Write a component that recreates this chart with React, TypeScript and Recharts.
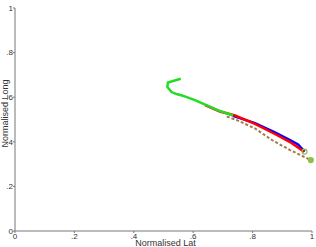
import React from "react";
import { ComposedChart, Line, Scatter, XAxis, YAxis } from "recharts";

const TICKS = [0, 0.2, 0.4, 0.6, 0.8, 1];

const greenPath = [
  { x: 0.558, y: 0.683 },
  { x: 0.515, y: 0.666 },
  { x: 0.513, y: 0.646 },
  { x: 0.527, y: 0.623 },
  { x: 0.544, y: 0.614 },
  { x: 0.562, y: 0.608 },
  { x: 0.606, y: 0.587 },
  { x: 0.64, y: 0.567 },
  { x: 0.69, y: 0.538 },
  { x: 0.734, y: 0.518 },
];

const redPath = [
  { x: 0.64, y: 0.565 },
  { x: 0.69, y: 0.536 },
  { x: 0.741, y: 0.518 },
  { x: 0.808, y: 0.48 },
  { x: 0.875, y: 0.435 },
  { x: 0.926, y: 0.399 },
  { x: 0.973, y: 0.356 },
];

const bluePath = [
  { x: 0.734, y: 0.516 },
  { x: 0.808, y: 0.484 },
  { x: 0.875, y: 0.442 },
  { x: 0.926, y: 0.408 },
  { x: 0.953, y: 0.388 },
  { x: 0.975, y: 0.356 },
];

const dashedPath = [
  { x: 0.713, y: 0.513 },
  { x: 0.746, y: 0.498 },
  { x: 0.808, y: 0.46 },
  { x: 0.865, y: 0.408 },
  { x: 0.926, y: 0.363 },
  { x: 0.996, y: 0.318 },
];

const endPoints = [
  { x: 0.975, y: 0.356, hollow: true },
  { x: 0.996, y: 0.318, hollow: false },
];

const fmt = (v: number) => (v === 0 ? "0" : v === 1 ? "1" : String(v).replace(/^0/, ""));

const FONT = "Liberation Sans, Arial, sans-serif";
const tickStyle = { fontSize: 8, fill: "#333", fontFamily: FONT };

const EndMarker = (props: any) => {
  const { cx, cy, payload } = props;
  return (
    <circle
      cx={cx}
      cy={cy}
      r={2.5}
      fill={payload.hollow ? "none" : "#8cc04a"}
      stroke="#8cc04a"
      strokeWidth={1.2}
    />
  );
};

const YLabel = (props: any) => {
  const vb = props.viewBox || {};
  const cy = (vb.y ?? 8) + (vb.height ?? 223) / 2 - 6;
  return (
    <text
      x={5}
      y={cy}
      transform={`rotate(-90 5 ${cy})`}
      textAnchor="middle"
      dominantBaseline="central"
      fontSize={9}
      fill="#333"
      fontFamily={FONT}
    >
      Normalised Long
    </text>
  );
};

export default function App() {
  return (
    <div style={{ position: "absolute", left: 0, top: 0, background: "#fff" }}>
      <ComposedChart width={316} height={247} margin={{ top: 8, right: 4, bottom: 0, left: 0 }}>
        <XAxis
          type="number"
          dataKey="x"
          domain={[0, 1]}
          ticks={TICKS}
          tickFormatter={fmt}
          tick={tickStyle}
          tickSize={2}
          tickMargin={0}
          height={16}
          stroke="#777"
          allowDuplicatedCategory={false}
          label={{
            value: "Normalised Lat",
            position: "insideBottom",
            offset: 1,
            fontSize: 9,
            fill: "#333",
            fontFamily: FONT,
            dx: 2,
          }}
        />
        <YAxis
          type="number"
          dataKey="y"
          domain={[0, 1]}
          ticks={TICKS}
          tickFormatter={fmt}
          tick={tickStyle}
          tickSize={2}
          tickMargin={0}
          width={15}
          stroke="#777"
          label={<YLabel />}
        />
        <Line data={dashedPath} dataKey="y" type="linear" stroke="#a47a4c" strokeWidth={2} strokeDasharray="3 2" dot={false} isAnimationActive={false} />
        <Line data={bluePath} dataKey="y" type="linear" stroke="#0000ff" strokeWidth={2.5} dot={false} isAnimationActive={false} />
        <Line data={redPath} dataKey="y" type="linear" stroke="#ff0000" strokeWidth={2.5} dot={false} isAnimationActive={false} />
        <Line data={greenPath} dataKey="y" type="linear" stroke="#22dd22" strokeWidth={2.5} dot={false} isAnimationActive={false} />
        <Scatter data={endPoints} dataKey="y" shape={<EndMarker />} isAnimationActive={false} />
      </ComposedChart>
    </div>
  );
}
